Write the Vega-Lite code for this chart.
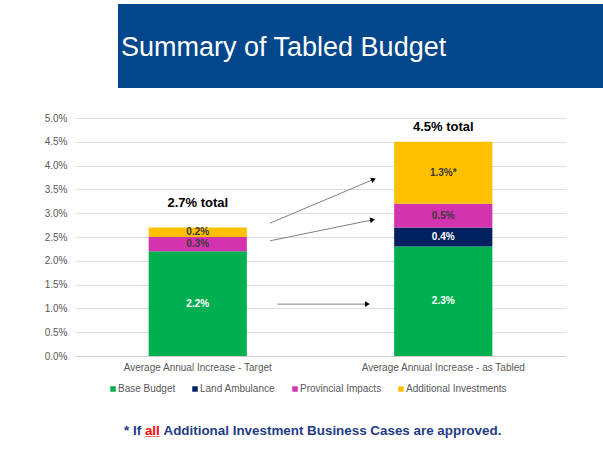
{
  "$schema": "https://vega.github.io/schema/vega-lite/v6.json",
  "background": "white",
  "padding": {"left": 44, "top": 4, "right": 0, "bottom": 0},
  "config": {
    "view": {"stroke": null},
    "font": "Liberation Sans"
  },
  "spacing": 25,
  "vconcat": [
    {
      "bounds": "flush",
      "spacing": 0,
      "hconcat": [
        {
          "width": 43,
          "height": 84,
          "data": {"values": [{"t": ""}]},
          "mark": {"type": "text"},
          "encoding": {"text": {"field": "t"}}
        },
        {
          "width": 485,
          "height": 84,
          "view": {"fill": "#02468C", "stroke": null},
          "data": {"values": [{"title": "Summary of Tabled Budget"}]},
          "mark": {"type": "text", "align": "left", "baseline": "alphabetic", "dx": -239.5, "dy": 10, "fontSize": 27, "color": "white"},
          "encoding": {"text": {"field": "title"}}
        }
      ]
    },
    {
      "bounds": "flush",
      "spacing": 69,
      "resolve": {"scale": {"color": "independent"}, "legend": {"color": "independent"}},
      "vconcat": [
        {
          "width": 491,
          "height": 238,
          "resolve": {"scale": {"x": "independent"}},
          "layer": [
            {
              "data": {"values": [
                {"category": "Average Annual Increase - Target", "component": "Base Budget", "value": 0.022, "label": "2.2%", "seq": 1},
                {"category": "Average Annual Increase - Target", "component": "Land Ambulance", "value": 0, "label": "", "seq": 2},
                {"category": "Average Annual Increase - Target", "component": "Provincial Impacts", "value": 0.003, "label": "0.3%", "seq": 3},
                {"category": "Average Annual Increase - Target", "component": "Additional Investments", "value": 0.002, "label": "0.2%", "seq": 4},
                {"category": "Average Annual Increase - as Tabled", "component": "Base Budget", "value": 0.023, "label": "2.3%", "seq": 1},
                {"category": "Average Annual Increase - as Tabled", "component": "Land Ambulance", "value": 0.004, "label": "0.4%", "seq": 2},
                {"category": "Average Annual Increase - as Tabled", "component": "Provincial Impacts", "value": 0.005, "label": "0.5%", "seq": 3},
                {"category": "Average Annual Increase - as Tabled", "component": "Additional Investments", "value": 0.013, "label": "1.3%*", "seq": 4}
              ]},
              "encoding": {
                "x": {
                  "field": "category", "type": "nominal",
                  "sort": ["Average Annual Increase - Target", "Average Annual Increase - as Tabled"],
                  "scale": {"paddingInner": 0.6, "paddingOuter": 0.3},
                  "axis": {"title": null, "labelAngle": 0, "labelColor": "#595959", "labelFontSize": 10, "labelPadding": 6, "ticks": false, "domainColor": "#cfcfcf", "labelLimit": 300}
                }
              },
              "layer": [
                {
                  "mark": {"type": "bar"},
                  "encoding": {
                    "y": {
                      "field": "value", "type": "quantitative", "stack": "zero",
                      "scale": {"domain": [0, 0.05], "nice": false},
                      "axis": {"title": null, "format": ".1%", "values": [0, 0.005, 0.01, 0.015, 0.02, 0.025, 0.03, 0.035, 0.04, 0.045, 0.05], "tickCount": 20, "labelOverlap": false, "domain": false, "ticks": false, "labelPadding": 8, "labelColor": "#595959", "labelFontSize": 10, "gridColor": "#dedede"}
                    },
                    "order": {"field": "seq", "type": "quantitative"},
                    "color": {
                      "field": "component", "type": "nominal",
                      "scale": {"domain": ["Base Budget", "Land Ambulance", "Provincial Impacts", "Additional Investments"], "range": ["#00B050", "#002060", "#D433B0", "#FFC000"]},
                      "legend": {"orient": "none", "legendX": 33, "legendY": 266, "direction": "horizontal", "title": null, "symbolType": "square", "symbolSize": 30, "symbolStrokeWidth": 0, "labelFontSize": 10, "labelColor": "#595959", "labelOffset": 0, "columnPadding": 14}
                    }
                  }
                },
                {
                  "transform": [{"filter": "datum.value > 0"}],
                  "mark": {"type": "text", "fontSize": 10, "fontWeight": "bold", "baseline": "middle"},
                  "encoding": {
                    "y": {"field": "value", "type": "quantitative", "stack": "zero", "bandPosition": 0.5},
                    "order": {"field": "seq", "type": "quantitative"},
                    "text": {"field": "label"},
                    "color": {"condition": {"test": "datum.component === 'Base Budget' || datum.component === 'Land Ambulance'", "value": "white"}, "value": "#3a3a3a"}
                  }
                },
                {
                  "data": {"values": [
                    {"category": "Average Annual Increase - Target", "total": 0.027, "label": "2.7% total"},
                    {"category": "Average Annual Increase - as Tabled", "total": 0.045, "label": "4.5% total"}
                  ]},
                  "transform": [{"filter": "datum.category === 'Average Annual Increase - Target'"}],
                  "mark": {"type": "text", "fontSize": 13, "fontWeight": "bold", "color": "black", "baseline": "middle", "dy": -24.5},
                  "encoding": {
                    "y": {"field": "total", "type": "quantitative"},
                    "text": {"field": "label"}
                  }
                },
                {
                  "data": {"values": [
                    {"category": "Average Annual Increase - Target", "total": 0.027, "label": "2.7% total"},
                    {"category": "Average Annual Increase - as Tabled", "total": 0.045, "label": "4.5% total"}
                  ]},
                  "transform": [{"filter": "datum.category === 'Average Annual Increase - as Tabled'"}],
                  "mark": {"type": "text", "fontSize": 13, "fontWeight": "bold", "color": "black", "baseline": "middle", "dy": -15},
                  "encoding": {
                    "y": {"field": "total", "type": "quantitative"},
                    "text": {"field": "label"}
                  }
                }
              ]
            },
            {
              "data": {"values": [
                {"arrow": "a", "x1": 0.294, "x2": 0.716, "y1": 0.0279, "y2": 0.0371},
                {"arrow": "b", "x1": 0.294, "x2": 0.712, "y1": 0.0242, "y2": 0.0286},
                {"arrow": "c", "x1": 0.323, "x2": 0.691, "y1": 0.0109, "y2": 0.0109}
              ]},
              "layer": [
                {
                  "mark": {"type": "rule", "color": "#808080", "strokeWidth": 1},
                  "encoding": {
                    "x": {"field": "x1", "type": "quantitative", "scale": {"domain": [-0.5, 1.5]}, "axis": null},
                    "x2": {"field": "x2"},
                    "y": {"field": "y1", "type": "quantitative", "scale": {"domain": [0, 0.05], "nice": false}},
                    "y2": {"field": "y2"}
                  }
                },
                {
                  "transform": [{"filter": "datum.arrow === 'a'"}],
                  "mark": {"type": "point", "shape": "triangle-right", "filled": true, "color": "black", "opacity": 1, "size": 32, "angle": 337},
                  "encoding": {
                    "x": {"field": "x2", "type": "quantitative", "scale": {"domain": [-0.5, 1.5]}, "axis": null},
                    "y": {"field": "y2", "type": "quantitative"}
                  }
                },
                {
                  "transform": [{"filter": "datum.arrow === 'b'"}],
                  "mark": {"type": "point", "shape": "triangle-right", "filled": true, "color": "black", "opacity": 1, "size": 32, "angle": 348},
                  "encoding": {
                    "x": {"field": "x2", "type": "quantitative", "scale": {"domain": [-0.5, 1.5]}, "axis": null},
                    "y": {"field": "y2", "type": "quantitative"}
                  }
                },
                {
                  "transform": [{"filter": "datum.arrow === 'c'"}],
                  "mark": {"type": "point", "shape": "triangle-right", "filled": true, "color": "black", "opacity": 1, "size": 32, "angle": 0},
                  "encoding": {
                    "x": {"field": "x2", "type": "quantitative", "scale": {"domain": [-0.5, 1.5]}, "axis": null},
                    "y": {"field": "y2", "type": "quantitative"}
                  }
                }
              ]
            }
          ]
        },
        {
          "width": 491,
          "height": 20,
          "data": {"values": [
            {"id": 1, "piece": "* If"},
            {"id": 2, "piece": "all"},
            {"id": 3, "piece": "Additional Investment Business Cases are approved."}
          ]},
          "layer": [
            {
              "transform": [{"filter": "datum.id === 1"}],
              "mark": {"type": "text", "align": "left", "baseline": "alphabetic", "fontSize": 13.4, "fontWeight": "bold", "color": "#1F3C88", "dx": -196.5},
              "encoding": {"text": {"field": "piece"}}
            },
            {
              "transform": [{"filter": "datum.id === 2"}],
              "mark": {"type": "text", "align": "left", "baseline": "alphabetic", "fontSize": 13.4, "fontWeight": "bold", "color": "#FF0000", "dx": -175.6},
              "encoding": {"text": {"field": "piece"}}
            },
            {
              "transform": [{"filter": "datum.id === 2"}],
              "mark": {"type": "text", "align": "left", "baseline": "alphabetic", "fontSize": 13.4, "fontWeight": "bold", "color": "#FF0000", "dx": -175.6},
              "encoding": {"text": {"value": "__"}}
            },
            {
              "transform": [{"filter": "datum.id === 3"}],
              "mark": {"type": "text", "align": "left", "baseline": "alphabetic", "fontSize": 13.4, "fontWeight": "bold", "color": "#1F3C88", "dx": -157.0},
              "encoding": {"text": {"field": "piece"}}
            }
          ]
        }
      ]
    }
  ]
}
